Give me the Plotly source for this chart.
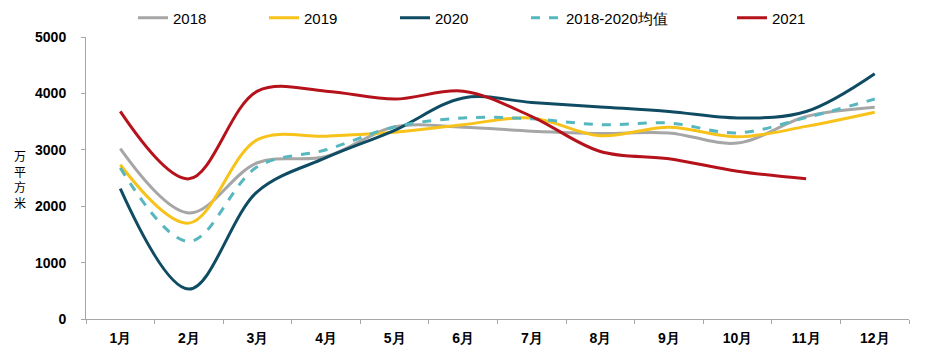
import plotly.graph_objects as go

months = ["1月", "2月", "3月", "4月", "5月", "6月", "7月", "8月", "9月", "10月", "11月", "12月"]
s2018 = [3020, 1880, 2770, 2880, 3410, 3400, 3330, 3290, 3300, 3120, 3590, 3755]
s2019 = [2735, 1700, 3180, 3240, 3310, 3445, 3565, 3250, 3400, 3230, 3415, 3665]
s2020 = [2310, 530, 2260, 2860, 3345, 3920, 3840, 3760, 3680, 3565, 3680, 4350]
savg = [2680, 1375, 2700, 3000, 3405, 3565, 3550, 3445, 3475, 3300, 3570, 3900]
s2021 = [3680, 2485, 4040, 4040, 3900, 4040, 3590, 2970, 2840, 2620, 2485, None]
yticks = [0, 1000, 2000, 3000, 4000, 5000]
ytitle = "万平方米"

series = [
    ("2018", s2018, "#A6A6A6", "solid", 86),
    ("2019", s2019, "#F7C21A", "solid", 86),
    ("2020", s2020, "#0F4C63", "solid", 86),
    ("2018-2020均值", savg, "#56B7BF", "dash", 161),
    ("2021", s2021, "#B5121B", "solid", 60),
]

fig = go.Figure()
for name, vals, color, dash, lw in series:
    fig.add_trace(go.Scatter(
        x=months, y=vals, name=name, mode="lines",
        line=dict(color=color, width=3, dash=dash, shape="spline", smoothing=1.0),
        legendwidth=lw,
    ))

fig.update_layout(
    width=928, height=358,
    margin=dict(l=86, r=19, t=37, b=39, autoexpand=False),
    paper_bgcolor="white", plot_bgcolor="white",
    font=dict(family="Arial, Liberation Sans", color="black"),
    showlegend=True,
    legend=dict(orientation="h", xref="container", yref="container",
                x=133/928, y=1 - 18/358, xanchor="left", yanchor="middle",
                font=dict(size=15, color="black"), bgcolor="rgba(0,0,0,0)"),
    xaxis=dict(type="category", range=[-0.5, 11.5], showline=True, linecolor="#A6A6A6",
               linewidth=1, ticks="outside", tickson="boundaries", ticklen=4,
               tickcolor="#A6A6A6", ticklabelstandoff=6,
               tickfont=dict(size=14, color="black", family="Arial", weight="bold"),
               showgrid=False, zeroline=False),
    yaxis=dict(range=[0, 5000], tickvals=yticks, showline=True, linecolor="#A6A6A6",
               linewidth=1, ticks="outside", ticklen=4, tickcolor="#A6A6A6",
               ticklabelstandoff=12,
               tickfont=dict(size=14, color="black", family="Arial", weight="bold"),
               showgrid=False, zeroline=False),
    annotations=[dict(
        text="<br>".join(ytitle), xref="paper", yref="paper",
        x=(20 - 86) / 823, y=(319 - 178.5) / 282,
        xanchor="center", yanchor="middle", showarrow=False,
        font=dict(size=12, color="black", family="Noto Sans CJK SC"))],
)

fig.write_html("out.html", post_script="document.body.style.margin='0';",
               config={"displayModeBar": False})
